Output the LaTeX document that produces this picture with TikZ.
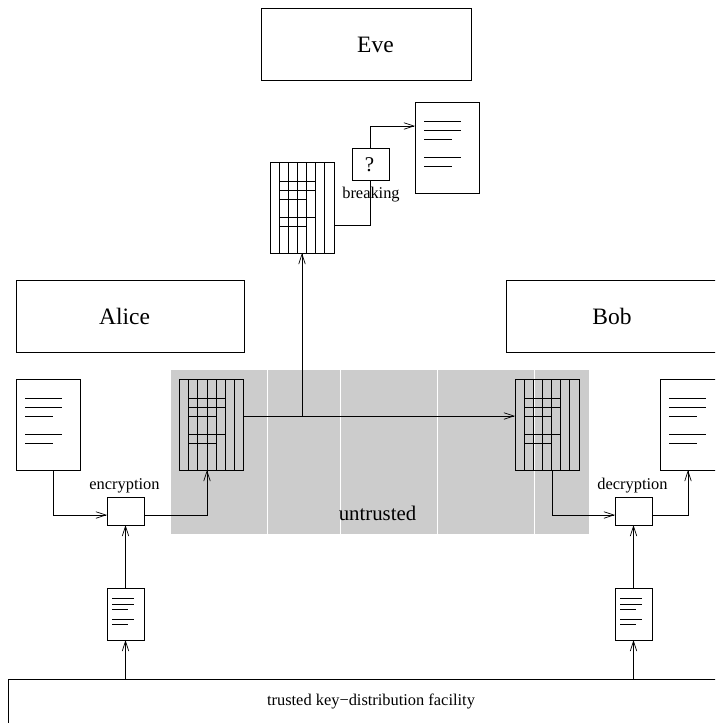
\documentclass[tikz,border=0pt]{standalone}
\usepackage{fontspec}
\setmainfont{Liberation Serif}
\usetikzlibrary{arrows.meta}

\tikzset{
  box/.style={draw=black,inner sep=0pt,outer sep=0pt},
  party/.style={box,minimum width=#1,minimum height=72pt},
  sheet/.style={box,minimum width=64pt,minimum height=91pt},
  keysheet/.style={box,minimum width=37pt,minimum height=52pt},
  cryptobox/.style={box,minimum width=37pt,minimum height=28pt},
  smalltext/.style={inner sep=0pt,font=\fontsize{16.4}{18}\selectfont},
  bigtext/.style={inner sep=0pt,font=\fontsize{23.5}{26}\selectfont}
}
% text lines of a document page
\newcommand{\textlines}[1]{
  \foreach \ly/\lx in {19/46,28/46,37/37,55/46,64/37}{
    \draw (#1) ++(9,\ly) -- ++(\lx-9,0);
  }
}
% columns and rows of a ciphertext page
\newcommand{\cipherlines}[1]{
  \foreach \cx in {1,...,6}{
    \draw (#1) ++(9.14*\cx,0) -- ++(0,91);
  }
  \foreach \ly/\lx in {19/45.7,28/45.7,37/36.6,55/45.7,64/36.6}{
    \draw (#1) ++(9.14,\ly) -- ++(\lx-9.14,0);
  }
}

\begin{document}
\begin{tikzpicture}[x=1pt,y=-1pt,line width=0.8pt,line cap=butt,
    >={Straight Barb[length=10pt,width=6.5pt,line width=0.7pt]}]
  \useasboundingbox (0,0) rectangle (715,723);
  \clip (0,0) rectangle (715,723);
  % ==== untrusted zone ====
  \fill[black!20] (171,370) rectangle (589,534);
  \foreach \zx in {267.5,340,437,534.5}{
    \draw[white,line width=1pt] (\zx,370) -- (\zx,534);
  }
  \node[bigtext,font=\fontsize{20.8}{24}\selectfont] (untrusted) at (377.5,513) {untrusted};
  % ==== parties ====
  \node[party=210pt] (eve) at (366,44) {};
  \node[bigtext] (eveLabel) at (375.5,45) {Eve};
  \node[party=228pt] (alice) at (130,316) {};
  \node[bigtext] (aliceLabel) at (124.5,316.5) {Alice};
  \node[party=228pt] (bob) at (620,316) {};
  \node[bigtext] (bobLabel) at (612,316.5) {Bob};
  \node[box,minimum width=726pt,minimum height=44pt,smalltext] (trusted) at (371,701)
    {trusted key−distribution facility};
  % ==== pages ====
  \node[sheet] (alicePlain) at (48,424.5) {};
  \node[sheet] (aliceCipher) at (211.5,424.5) {};
  \node[sheet] (bobCipher) at (547,424.5) {};
  \node[sheet] (bobPlain) at (692,424.5) {};
  \node[sheet] (eveCipher) at (302,207.5) {};
  \node[sheet] (evePlain) at (447,148) {};
  \textlines{alicePlain.north west}
  \textlines{bobPlain.north west}
  \textlines{evePlain.north west}
  \cipherlines{aliceCipher.north west}
  \cipherlines{bobCipher.north west}
  \cipherlines{eveCipher.north west}
  % ==== keys ====
  \node[keysheet] (aliceKey) at (125.5,614) {};
  \node[keysheet] (bobKey) at (633.5,614) {};
  \foreach \kname in {aliceKey,bobKey}{
    \begin{scope}[shift={(\kname.north west)},xscale=0.58,yscale=0.57]
      \textlines{0,0}
    \end{scope}
  }
  % ==== crypto boxes ====
  \node[cryptobox] (encBox) at (125.5,511) {};
  \node[smalltext,anchor=south] (encLabel) at (124.5,493) {encryption};
  \node[cryptobox] (decBox) at (633.5,511) {};
  \node[smalltext,anchor=south] (decLabel) at (632.5,493) {decryption};
  \node[cryptobox,minimum height=32pt] (breakBox) at (370.5,164) {};
  \node[bigtext,font=\fontsize{21}{24}\selectfont] (breakMark) at (369.5,165) {?};
  \node[smalltext,anchor=north] (breakLabel) at (371,187) {breaking};
  % ==== connector ends off centre ====
  \coordinate (alicePlainOut) at (53,470);
  \coordinate (encIn) at (107,515);
  \coordinate (encOut) at (144,515);
  \coordinate (aliceCipherIn) at (207,470);
  \coordinate (aliceCipherOut) at (243,416);
  \coordinate (bobCipherIn) at (515,416);
  \coordinate (tap) at (302,416);
  \coordinate (bobCipherOut) at (552,470);
  \coordinate (decIn) at (615,515);
  \coordinate (decOut) at (652,515);
  \coordinate (bobPlainIn) at (688,470);
  \coordinate (eveCipherOut) at (334,225);
  \coordinate (evePlainIn) at (415,126);
  % ==== connectors ====
  \draw[->] (alicePlainOut) |- (encIn);
  \draw[->] (encOut) -| (aliceCipherIn);
  \draw[->] (aliceCipherOut) -- (bobCipherIn);
  \draw[->] (tap) -- (eveCipher.south);
  \draw[->] (bobCipherOut) |- (decIn);
  \draw[->] (decOut) -| (bobPlainIn);
  \draw (eveCipherOut) -| (breakBox.south);
  \draw[->] (breakBox.north) |- (evePlainIn);
  \draw[->] (aliceKey.north) -- (encBox.south);
  \draw[->] (bobKey.north) -- (decBox.south);
  \draw[->] (aliceKey.south |- trusted.north) -- (aliceKey.south);
  \draw[->] (bobKey.south |- trusted.north) -- (bobKey.south);
\end{tikzpicture}
\end{document}
